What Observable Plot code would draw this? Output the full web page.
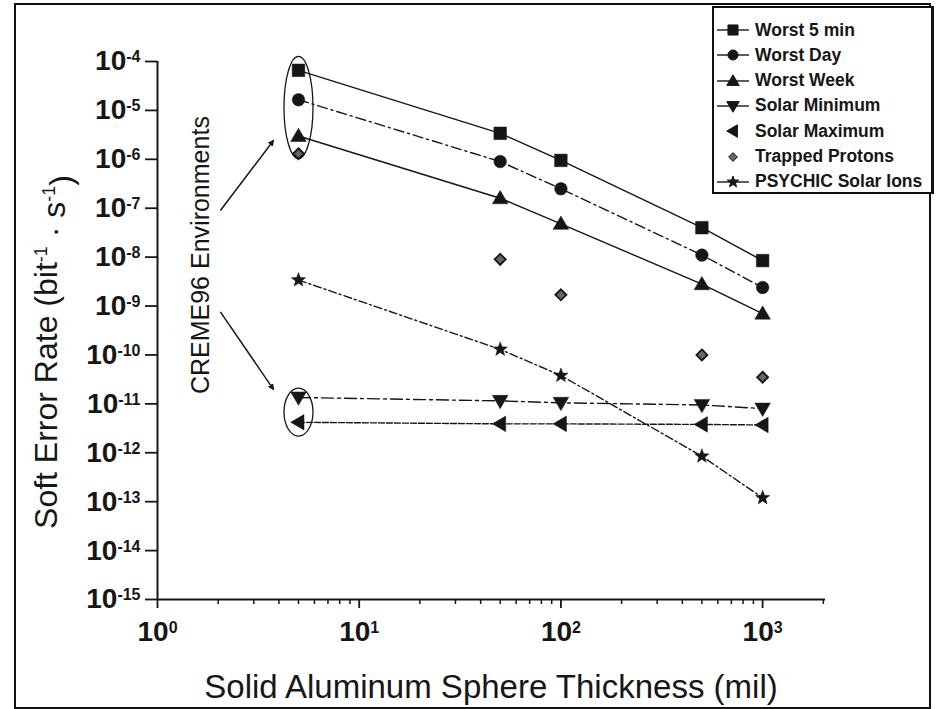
<!DOCTYPE html>
<html><head><meta charset="utf-8">
<script src="https://cdn.jsdelivr.net/npm/d3@7"></script>
<script src="https://cdn.jsdelivr.net/npm/@observablehq/plot@0.6"></script>
<style>
body{margin:0;background:#fff;}
#wrap{position:relative;width:940px;height:709px;overflow:hidden;font-family:"Liberation Sans",Arial,sans-serif;}
#frame{position:absolute;left:14px;top:3px;width:913px;height:702px;border:2px solid #111;}
#legend{position:absolute;left:712px;top:6px;width:217px;height:184px;border:2px solid #111;border-right-width:3px;background:#fff;}
.row{position:absolute;left:0;height:24px;display:flex;align-items:center;font-weight:bold;font-size:17.5px;color:#161616;white-space:nowrap;}
.row svg{margin-right:5px;}
</style></head><body><div id="wrap"><div id="frame"></div><div id="chart"></div><div id="legend"></div></div>
<script>
// ---- data ----
const thickness = [5, 50, 100, 500, 1000];
const worst5Min = [6.6e-5, 3.4e-6, 9.5e-7, 4.0e-8, 8.5e-9];
const worstDay = [1.65e-5, 9.0e-7, 2.5e-7, 1.1e-8, 2.4e-9];
const worstWeek = [3.0e-6, 1.6e-7, 4.8e-8, 2.8e-9, 7.0e-10];
const solarMin = [1.35e-11, 1.15e-11, 1.05e-11, 9.5e-12, 8.0e-12];
const solarMax = [4.2e-12, 3.9e-12, 3.9e-12, 3.8e-12, 3.7e-12];
const trappedProtons = [1.3e-6, 9.0e-9, 1.7e-9, 1.0e-10, 3.5e-11];
const psychicIons = [3.4e-9, 1.3e-10, 3.8e-11, 8.5e-13, 1.2e-13];
const seriesNames = ["Worst 5 min","Worst Day","Worst Week","Solar Minimum","Solar Maximum","Trapped Protons","PSYCHIC Solar Ions"];
const seriesValues = [worst5Min, worstDay, worstWeek, solarMin, solarMax, trappedProtons, psychicIons];
const yTickExponents = [-4,-5,-6,-7,-8,-9,-10,-11,-12,-13,-14,-15];
const xTickExponents = [0,1,2,3];
const xTitle = "Solid Aluminum Sphere Thickness (mil)";
const annotationText = "CREME96 Environments";
const annotationPos = {x: 1.63, y: 1.1e-8};
const arrows = [
  {x1: 2.05, y1: 9e-8, x2: 3.75, y2: 2.4e-6},
  {x1: 2.05, y1: 7.6e-10, x2: 3.75, y2: 2.0e-11}
];
const ellipses = [
  {x: 5, y: 1.15e-5, rx: 14.5, ry: 51},
  {x: 5, y: 6.8e-12, rx: 14.5, ry: 24}
];

// ---- symbols ----
const shapes = {
  square:(c,r)=>{c.rect(-r,-r,2*r,2*r);},
  circle:(c,r)=>{c.moveTo(r,0);c.arc(0,0,r,0,2*Math.PI);},
  triUp:(c,r)=>{c.moveTo(0,-r*1.2);c.lineTo(r*1.2,r*0.85);c.lineTo(-r*1.2,r*0.85);c.closePath();},
  triDown:(c,r)=>{c.moveTo(0,r*1.2);c.lineTo(r*1.2,-r*0.85);c.lineTo(-r*1.2,-r*0.85);c.closePath();},
  triLeft:(c,r)=>{c.moveTo(-r*1.2,0);c.lineTo(r*0.85,-r*1.2);c.lineTo(r*0.85,r*1.2);c.closePath();},
  diamond:(c,r)=>{c.moveTo(0,-r);c.lineTo(r,0);c.lineTo(0,r);c.lineTo(-r,0);c.closePath();},
  star:(c,r)=>{for(let i=0;i<10;i++){const a=-Math.PI/2+i*Math.PI/5;const rr=i%2?r*0.42:r;const px=rr*Math.cos(a),py=rr*Math.sin(a);i?c.lineTo(px,py):c.moveTo(px,py);}c.closePath();}
};
const style = [
  {shape:"square", r:6.3, dash:null, line:true, legendLine:true},
  {shape:"circle", r:6.3, dash:"10,4,2,4", line:true, legendLine:true},
  {shape:"triUp", r:6.5, dash:null, line:true, legendLine:true},
  {shape:"triDown", r:6.5, dash:"12,4,3,4", line:true, legendLine:true},
  {shape:"triLeft", r:6.5, dash:"6,2", line:true, legendLine:false},
  {shape:"diamond", r:5.5, dash:null, line:false, legendLine:false},
  {shape:"star", r:7.5, dash:"8,3,2,3", line:true, legendLine:true}
];
const sym = (name, r) => ({draw(ctx){shapes[name](ctx, r);}});
const ellipseSym = (rx, ry) => ({draw(c){const k=0.5523;c.moveTo(rx,0);c.bezierCurveTo(rx,ry*k,rx*k,ry,0,ry);c.bezierCurveTo(-rx*k,ry,-rx,ry*k,-rx,0);c.bezierCurveTo(-rx,-ry*k,-rx*k,-ry,0,-ry);c.bezierCurveTo(rx*k,-ry,rx,-ry*k,rx,0);c.closePath();}});

const rows = seriesNames.flatMap((s,i)=>thickness.map((t,j)=>({series:s, idx:i, x:t, y:seriesValues[i][j]})));
const ink = "#161616";
const marks = [];
seriesNames.forEach((s,i)=>{
  const d = rows.filter(r=>r.idx===i);
  if (style[i].line) marks.push(Plot.line(d, {x:"x", y:"y", stroke:ink, strokeWidth:1.4, strokeDasharray:style[i].dash}));
});
seriesNames.forEach((s,i)=>{
  const d = rows.filter(r=>r.idx===i);
  marks.push(Plot.dot(d, {x:"x", y:"y", symbol: sym(style[i].shape, style[i].r), fill: i===5 ? "#666" : ink, stroke: ink, strokeWidth: i===5?1.8:0.5, r: 6}));
});
ellipses.forEach(e=>marks.push(Plot.dot([e], {x:"x", y:"y", symbol: ellipseSym(e.rx,e.ry), fill:"none", stroke:ink, strokeWidth:1.3, r:6})));

const minorX = [];
for (let e=0;e<4;e++) for (let m=2;m<10;m++) { const v=m*10**e; if (v<2050) minorX.push(v); }

const chart = Plot.plot({
  width: 940, height: 709,
  marginLeft: 157, marginRight: 115, marginTop: 61, marginBottom: 110,
  style: {background:"transparent", fontFamily:'"Liberation Sans", Arial, sans-serif', color: ink},
  x: {type:"log", domain:[1, 2050]},
  y: {type:"log", domain:[1e-15, 1e-4]},
  marks: [
    Plot.axisX(minorX, {tickSize:5, tickFormat:()=>"", strokeWidth:1.5, label:null}),
    Plot.axisX(xTickExponents.map(e=>10**e), {tickSize:9, strokeWidth:1.8, tickPadding:13, tickFormat:d=>"10^"+Math.round(Math.log10(d)), fontSize:28, fontWeight:"bold", label:null}),
    Plot.axisY(yTickExponents.map(e=>10**e), {tickSize:12, strokeWidth:1.8, tickPadding:5, tickFormat:d=>"10^"+Math.round(Math.log10(d)), fontSize:28, fontWeight:"bold", label:null}),
    Plot.ruleX([1], {stroke:ink, strokeWidth:2}),
    Plot.ruleY([1e-15], {stroke:ink, strokeWidth:2}),
    Plot.link(arrows, {x1:"x1", y1:"y1", x2:"x2", y2:"y2", stroke:ink, strokeWidth:1.5, markerEnd:"arrow"}),
    Plot.text([annotationPos], {x:"x", y:"y", text:()=>annotationText, rotate:-90, fontSize:26, fill:ink}),
    ...marks
  ]
});
document.getElementById("chart").appendChild(chart);
const svg = d3.select(chart);

// filled arrowheads
svg.selectAll("marker path").attr("d","M-5,-3.2L1.5,0L-5,3.2Z").attr("fill",ink).attr("stroke","none");

// superscript tick labels
svg.selectAll("text").each(function(){
  const t = this.textContent;
  if (/^10\^-?\d+$/.test(t)) {
    const exp = t.split("^")[1];
    const sel = d3.select(this);
    sel.text("");
    sel.append("tspan").text("10");
    sel.append("tspan").attr("dy","-0.5em").attr("font-size","16px").text(exp);
  }
  if (t === annotationText) d3.select(this).attr("textLength", 278).attr("lengthAdjust","spacingAndGlyphs");
});

// axis titles
svg.append("text").attr("x", 491).attr("y", 698).attr("text-anchor","middle")
  .attr("font-size", 33).attr("fill", ink).text(xTitle);
const yt = svg.append("text").attr("transform","translate(57,352) rotate(-90)").attr("text-anchor","middle")
  .attr("font-size", 32).attr("fill", ink);
yt.append("tspan").text("Soft Error Rate (bit");
yt.append("tspan").attr("dy","-0.55em").attr("font-size",18).text("-1");
yt.append("tspan").attr("dy","0.55em").text(" \u00b7 s");
yt.append("tspan").attr("dy","-0.55em").attr("font-size",18).text("-1");
yt.append("tspan").attr("dy","0.55em").text(")");
svg.style("position","absolute").style("left","0").style("top","0");

// legend
const leg = d3.select("#legend");
seriesNames.forEach((s,i)=>{
  const row = leg.append("div").attr("class","row").style("top", (10 + i*25.3) + "px").style("left","2px");
  const sv = row.append("svg").attr("width",34).attr("height",22);
  if (style[i].legendLine) sv.append("line").attr("x1",1).attr("x2",33).attr("y1",11).attr("y2",11).attr("stroke",ink).attr("stroke-width",1.4);
  const p = d3.path(); shapes[style[i].shape](p, style[i].r*0.8);
  sv.append("path").attr("d", p.toString()).attr("transform","translate(17,11)").attr("fill", i===5?"#666":ink).attr("stroke",ink);
  row.append("span").text(s);
});
</script></body></html>
